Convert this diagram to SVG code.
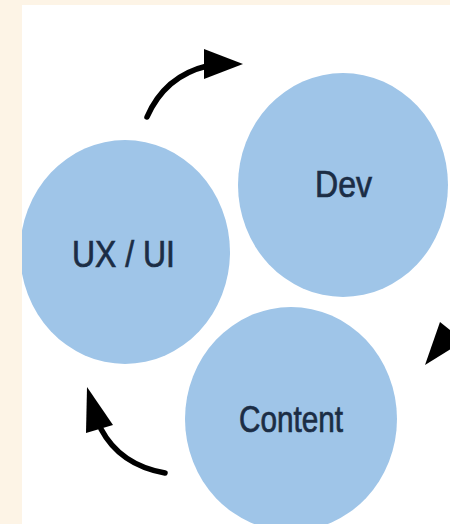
<svg xmlns="http://www.w3.org/2000/svg" width="450" height="524" viewBox="0 0 450 524">
  <style>
    .node { fill: #9fc5e8; }
    .label { font-family: "Liberation Sans", Arial, sans-serif; font-size: 36px; fill: #1b2d45; stroke: #1b2d45; stroke-width: 0.7; text-anchor: middle; }
    .conn { fill: none; stroke: #000; stroke-width: 5.5; stroke-linecap: round; }
    .head { fill: #000; }
  </style>
  <defs>
    <clipPath id="panel">
      <rect x="22" y="5" width="428" height="519"/>
    </clipPath>
  </defs>
  <rect x="0" y="0" width="450" height="524" fill="#fdf4e6"/>
  <rect x="22" y="5" width="428" height="519" fill="#ffffff"/>
  <g clip-path="url(#panel)">
    <g id="node-dev">
      <ellipse class="node" cx="343" cy="185" rx="105" ry="112"/>
      <text class="label" x="343.5" y="197" textLength="57" lengthAdjust="spacingAndGlyphs">Dev</text>
    </g>
    <g id="node-uxui">
      <ellipse class="node" cx="125" cy="252" rx="105" ry="112"/>
      <text class="label" x="123.5" y="267" textLength="103" lengthAdjust="spacingAndGlyphs">UX / UI</text>
    </g>
    <g id="node-content">
      <ellipse class="node" cx="291" cy="419" rx="106" ry="112"/>
      <text class="label" x="291" y="432" textLength="104" lengthAdjust="spacingAndGlyphs">Content</text>
    </g>
    <g id="connectors">
      <path class="conn" d="M147,117 Q165,76 207,66"/>
      <polygon class="head" points="243,64 204,49 204,79"/>
      <path class="conn" d="M165,473 Q120,465 101,429"/>
      <polygon class="head" points="87,387 86,433 113,425"/>
      <polygon class="head" points="425,365 440,322 464,341"/>
    </g>
  </g>
</svg>
